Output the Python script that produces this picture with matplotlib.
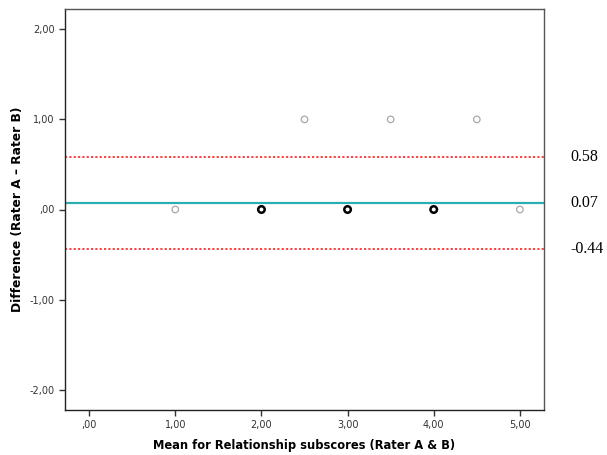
import matplotlib
matplotlib.use("Agg")
import matplotlib.pyplot as plt

# data
single_x = [1.0, 2.5, 3.5, 4.5, 5.0]
single_y = [0.0, 1.0, 1.0, 1.0, 0.0]
multi_x = [2.0, 3.0, 4.0]
multi_y = [0.0, 0.0, 0.0]

mean_diff = 0.07
upper_loa = 0.58
lower_loa = -0.44

x_ticks = [0, 1, 2, 3, 4, 5]
y_ticks = [-2, -1, 0, 1, 2]


def comma_fmt(v):
    s = "%.2f" % v
    s = s.replace(".", ",")
    if s.startswith("0,"):
        s = s[1:]
    elif s.startswith("-0,"):
        s = "-" + s[2:]
    return s


fig = plt.figure(figsize=(6.07, 4.55), dpi=100)
ax = fig.add_axes([65 / 607, 45 / 455, 479 / 607, 401 / 455])

ax.axhline(upper_loa, color="#ff3030", linestyle=(0, (1.2, 1.2)), linewidth=1.3)
ax.axhline(lower_loa, color="#ff3030", linestyle=(0, (1.2, 1.2)), linewidth=1.3)
ax.axhline(mean_diff, color="#2aaeb0", linewidth=1.6)

ax.scatter(single_x, single_y, s=22, facecolors="none", edgecolors="#a8a8a8",
           linewidths=0.9, zorder=3)
ax.scatter(multi_x, multi_y, s=22, facecolors="none", edgecolors="black",
           linewidths=1.8, zorder=3)

ax.set_xlim(-0.28, 5.28)
ax.set_ylim(-2.225, 2.225)
ax.set_xticks(x_ticks)
ax.set_yticks(y_ticks)
ax.set_xticklabels([comma_fmt(v) for v in x_ticks])
ax.set_yticklabels([comma_fmt(v) for v in y_ticks])
ax.tick_params(labelsize=7, colors="#333333", length=4, width=1, direction="out")
ax.tick_params(top=False, right=False)

for sp in ax.spines.values():
    sp.set_color("#555555")
    sp.set_linewidth(1.0)
ax.spines["left"].set_color("#222222")
ax.spines["bottom"].set_color("#222222")

ax.set_xlabel("Mean for Relationship subscores (Rater A & B)", fontsize=8.3,
              fontweight="bold", labelpad=6)
ax.set_ylabel("Difference (Rater A \u2013 Rater B)", fontsize=8.8,
              fontweight="bold", labelpad=4)

for val, txt in [(upper_loa, "0.58"), (mean_diff, "0.07"), (lower_loa, "-0.44")]:
    ax.text(1.0 + 26 / 479, val, txt, transform=ax.get_yaxis_transform(),
            fontsize=11.5, family="Liberation Serif", va="center", ha="left",
            clip_on=False)

fig.savefig("out.png", dpi=100)
